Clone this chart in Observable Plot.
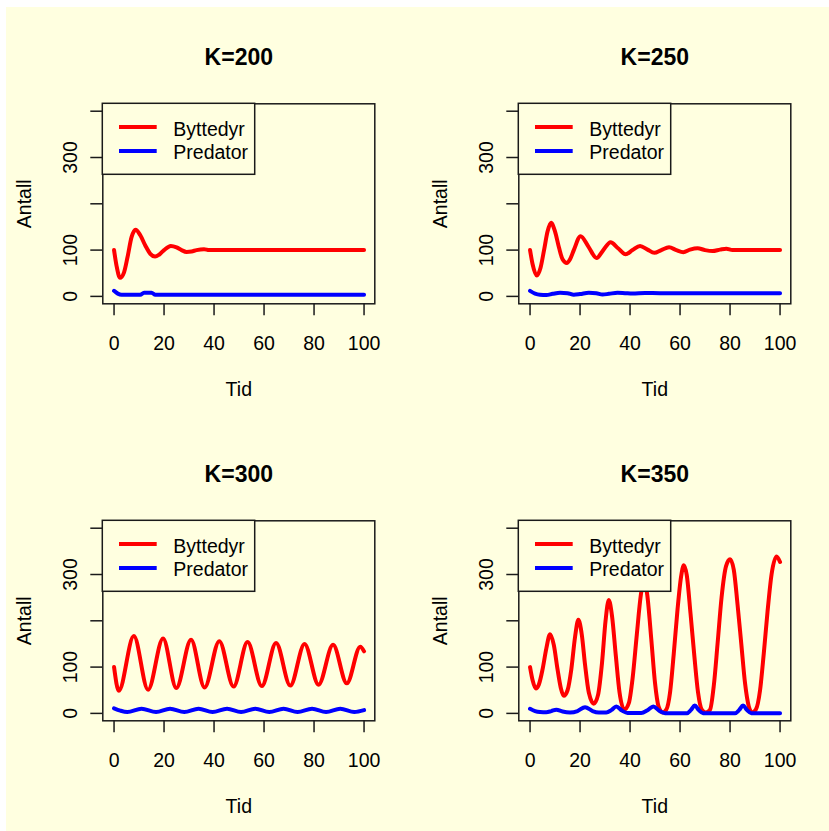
<!DOCTYPE html>
<html>
<head>
<meta charset="utf-8">
<script src="https://cdn.jsdelivr.net/npm/d3@7"></script>
<script src="https://cdn.jsdelivr.net/npm/@observablehq/plot@0.6"></script>
<style>
  html, body { margin: 0; padding: 0; background: #ffffff; }
  #page { position: relative; width: 829px; height: 831px; overflow: hidden; background: #ffffff; }
  #device { position: absolute; left: 6px; top: 7px; width: 840px; height: 840px; background: #FFFFE0; }
  .panel { position: absolute; width: 416px; height: 416px; }
  .panel svg { overflow: visible; }
</style>
</head>
<body>
<div id="page"><div id="device"></div></div>
<script>
// Simulated predator–prey runs for four carrying capacities K.
// Each series is a list of [tid, antall] pairs.
const panelTitles = ["K=200", "K=250", "K=300", "K=350"];
const seriesNames = ["Byttedyr", "Predator"];
const seriesColors = ["#ff0000", "#0000ff"];
const xTicks = [0, 20, 40, 60, 80, 100];
const yTicks = [0, 100, 200, 300, 400];
const yTickLabels = [0, 100, 300];

const bytte200 = [[0,100],[1,66],[2.4,40],[4,52],[5.4,85],[7,128],[8.6,144],[10.5,132],[12.5,110],[14.5,92],[16.4,86],[18,90],[20,100],[22.7,109],[25,106],[27,100],[29,96],[31,97],[33,100],[36,102],[38,100],[100,100]];
const pred200 = [[0,12],[1.5,6],[3,3.5],[10.5,3.5],[12,8],[15,8],[16.5,3.5],[100,3.5]];

const bytte250 = [[0,100],[1,70],[2.7,45],[4.2,62],[5.6,100],[7,140],[8.4,159],[10,140],[11.6,105],[13,80],[14.7,72],[16,80],[17.5,100],[20.2,130],[23.4,107],[26.6,83],[29.3,100],[32.2,117],[35.2,104],[38.2,91],[41,100],[44,109],[47,101],[49.7,94],[52.5,100],[55.6,106],[58.5,100],[61.3,95.5],[64,101],[67,104],[70,100],[73,98],[76,101],[78.5,103],[81,100],[100,100]];
const pred250 = [[0,12],[2,6],[4,3.5],[6.5,3],[9,5.5],[12,8],[15,7],[17.5,3.5],[20,5],[23.5,8],[26.5,7],[29,4],[31.5,5.5],[35,8],[38,7],[41,6],[46,7.5],[52,7],[100,7]];

const bytte300 = [[0,100],[1.9,49],[7.9,167],[13.6,51],[19.6,162],[24.9,55],[30.8,159],[36.2,56],[42.1,156],[47.8,58],[53.4,154],[59.1,59],[64.8,152],[70.5,60],[76.2,150],[81.8,62],[87.6,148],[93.1,65],[98.5,144],[100,134]];
const pred300 = [[0,11],[2.5,6],[5.3,3],[11,10],[16.8,3],[22.4,10],[28.1,3],[33.8,10],[39.4,3],[45.2,10],[50.8,3],[56.5,10],[62.1,3],[67.8,10],[73.4,3],[79.2,10],[84.8,3],[90.5,10],[96.1,3],[100,7]];

const bytte350 = [[0,100],[1,72],[2.3,54],[3.5,62],[5,95],[6.5,140],[8,171],[9.5,148],[11,95],[12.3,55],[13.5,38],[15,50],[16.5,95],[18,165],[19.3,202],[20.7,170],[22,105],[23.5,45],[25.5,21],[27.2,40],[28.8,110],[30.2,200],[31.5,245],[32.8,210],[34.3,125],[35.8,45],[37.7,8],[39.5,22],[41,75],[42.7,170],[44.3,255],[45.6,290],[46.9,255],[48.5,160],[50,65],[51.4,15],[53,2],[54.5,8],[56,45],[57.5,130],[59,225],[60.4,295],[61.5,320],[62.7,298],[64.2,215],[65.7,125],[67.2,45],[68.7,8],[70.3,2],[72,8],[73.5,60],[75,150],[76.6,250],[78.4,318],[80,333],[81.5,310],[83,235],[84.5,150],[86,65],[87.5,15],[88.8,2],[90.3,8],[92,50],[93.5,130],[95,220],[96.6,300],[98.6,339],[100,327]];
const pred350 = [[0,10],[2,5],[4,3],[6.5,2.5],[8.5,5],[10.5,8],[13,4],[16,2],[19,5],[22,13.5],[25,5],[27.5,2],[30.5,2],[32.5,7],[34.5,15],[36.8,6],[39,1],[44.5,1],[47,7],[49.3,15],[51.8,5],[54,0.5],[62.8,0.5],[64.3,7],[65.9,17],[67.5,7],[69.2,0.4],[82,0.4],[83.6,7],[85.2,17],[86.8,7],[88.5,0.3],[100,0.3]];

const panels = [
  {title: panelTitles[0], series: [bytte200, pred200]},
  {title: panelTitles[1], series: [bytte250, pred250]},
  {title: panelTitles[2], series: [bytte300, pred300]},
  {title: panelTitles[3], series: [bytte350, pred350]}
];

const bg = "#FFFFE0";
const ink = "#1a1a1a";
const font = "'Liberation Sans', Arial, Helvetica, sans-serif";
const fs = 19.5;
const W = 416, H = 416;
const mL = 96.3, mT = 96.3, frameW = 272, frameH = 200;
const centred = {textAnchor: "middle", lineAnchor: "middle", fill: "#000"};

function drawPanel(p) {
  const plot = Plot.plot({
    width: W, height: H,
    marginLeft: mL, marginTop: mT,
    marginRight: W - mL - frameW, marginBottom: H - mT - frameH,
    x: {domain: [-4.5, 104.3]},
    y: {domain: [-16, 416]},
    style: {background: "transparent", fontFamily: font, fontSize: fs + "px", color: ink, overflow: "visible"},
    marks: [
      ...p.series.map((s, i) => Plot.line(s, {
        x: d => d[0], y: d => d[1],
        stroke: seriesColors[i], strokeWidth: 4, curve: "monotone-x"
      })),
      Plot.frame({stroke: ink, strokeWidth: 1.5}),
      Plot.axisX({ticks: xTicks, tickSize: 12, tickPadding: 20.5, strokeWidth: 1.5, label: null, fill: "#000", fontSize: fs}),
      Plot.axisY({ticks: yTicks, tickSize: 12, strokeWidth: 1.5, tickFormat: () => "", label: null}),
      Plot.text(yTickLabels, {...centred, y: d => d, text: d => String(d), frameAnchor: "left", dx: -31.6, rotate: -90, fontSize: fs}),
      Plot.text([p.title], {...centred, text: d => d, frameAnchor: "top", dy: -45.7, fontSize: 23, fontWeight: "bold"}),
      Plot.text(["Tid"], {...centred, text: d => d, frameAnchor: "bottom", dy: 85.6, fontSize: fs}),
      Plot.text(["Antall"], {...centred, text: d => d, frameAnchor: "left", dx: -77.8, rotate: -90, fontSize: fs})
    ]
  });

  // Legend box in the top-left corner of the plotting region, drawn over the lines
  const g = d3.select(plot).append("g").attr("transform", `translate(${mL},${mT})`);
  g.append("rect")
    .attr("width", 152.4).attr("height", 71)
    .attr("fill", bg).attr("stroke", ink).attr("stroke-width", 1.5);
  seriesNames.forEach((name, i) => {
    g.append("line")
      .attr("x1", 16.7).attr("x2", 54.4)
      .attr("y1", 23.7 + 24 * i).attr("y2", 23.7 + 24 * i)
      .attr("stroke", seriesColors[i]).attr("stroke-width", 4);
    g.append("text")
      .attr("x", 71).attr("y", 32.5 + 23.5 * i)
      .attr("text-anchor", "start")
      .attr("fill", "#000").attr("font-size", fs).attr("font-family", font)
      .text(name);
  });
  return plot;
}

const device = document.getElementById("device");
panels.forEach((p, k) => {
  const div = document.createElement("div");
  div.className = "panel";
  div.style.left = (k % 2) * 416.4 + "px";
  div.style.top = Math.floor(k / 2) * 416.5 + "px";
  div.appendChild(drawPanel(p));
  device.appendChild(div);
});
</script>
</body>
</html>
